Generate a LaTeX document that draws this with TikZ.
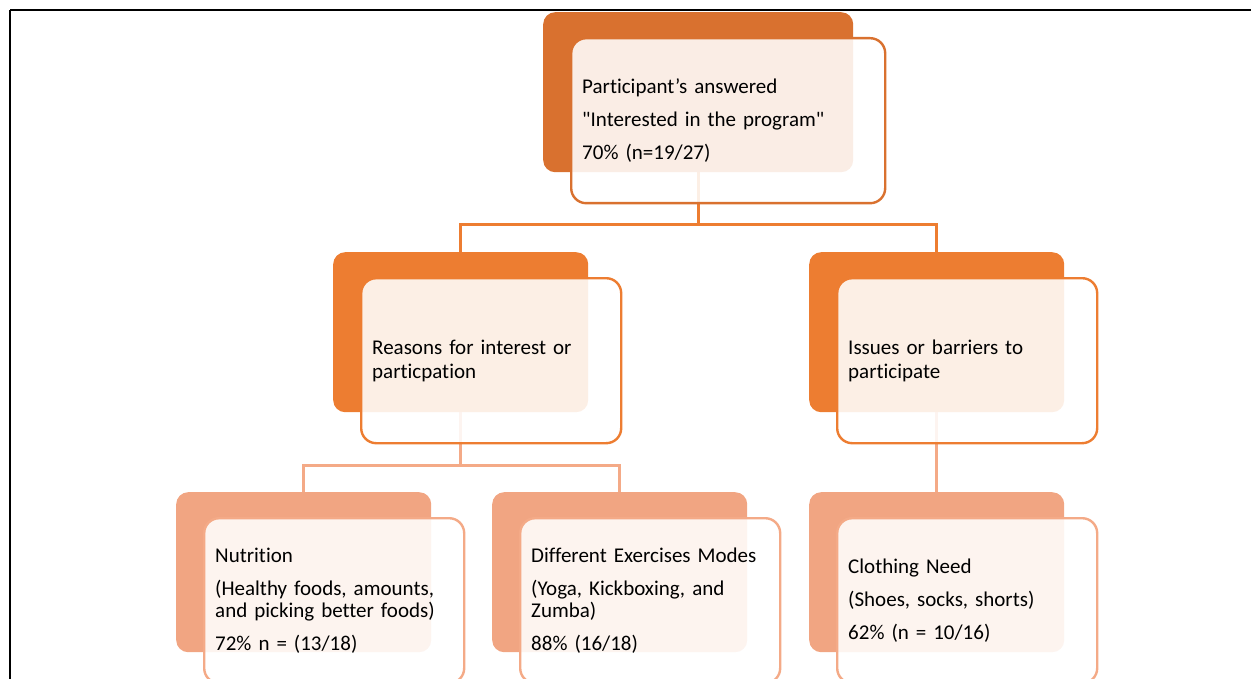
\documentclass[tikz,border=0pt]{standalone}
\usepackage{fontspec}
\setmainfont{Carlito}[Ligatures={CommonOff,TeXOff}]
\usepackage{color}
\usepackage{tikz}
\usetikzlibrary{positioning,backgrounds}
\definecolor{topor}{RGB}{217,113,47}
\definecolor{midor}{RGB}{237,125,49}
\definecolor{lowor}{RGB}{241,165,130}
\definecolor{lowline}{RGB}{244,170,135}
\begin{document}
\begin{tikzpicture}[x=1pt, y=-1pt,
  back/.style={rounded corners=12pt, inner sep=0pt, anchor=north west, minimum height=160pt},
  front/.style={draw, line width=2.4pt, rounded corners=15pt, fill=white, fill opacity=0.88, text opacity=1,
    anchor=north west, align=left, inner xsep=11pt, minimum height=165pt, text=black,
    font=\fontsize{21}{22}\selectfont},
  link/.style={line width=2.6pt}]
  \useasboundingbox (0,0) rectangle (1253,679);
  \draw[line width=1.3pt] (10,10) -- (1251,10);
  \draw[line width=2pt] (10,10) -- (10,679);
  % top level
  \node[back, fill=topor, minimum width=310pt] (topback) at (543,12) {};
  \node[front, draw=topor, minimum width=314pt, text width=292pt] (top) at ([shift={(27,25)}]topback.north west)
    {Participant’s answered\\[11pt]"Interested in the program"\\[11pt]70\% (n=19/27)};
  % second level
  \node[back, fill=midor, minimum width=255pt] (leftback) at (333,252) {};
  \node[front, draw=midor, minimum width=260pt, text width=238pt] (reasons) at ([shift={(27,25)}]leftback.north west)
    {Reasons for interest or\\[2pt]particpation};
  \node[back, fill=midor, minimum width=255pt] (rightback) at (809,252) {};
  \node[front, draw=midor, minimum width=260pt, text width=238pt] (issues) at ([shift={(27,25)}]rightback.north west)
    {Issues or barriers to\\[2pt]participate};
  % third level
  \node[back, fill=lowor, minimum width=255pt] (nutback) at (176,492) {};
  \node[front, draw=lowline, minimum width=260pt, text width=238pt] (nutrition) at ([shift={(27,25)}]nutback.north west)
    {Nutrition\\[11pt](Healthy foods, amounts,\\and picking better foods)\\[11pt]72\% n = (13/18)};
  \node[back, fill=lowor, minimum width=255pt] (exback) at (492,492) {};
  \node[front, draw=lowline, minimum width=260pt, text width=238pt] (exercise) at ([shift={(27,25)}]exback.north west)
    {Different Exercises Modes\\[11pt](Yoga, Kickboxing, and\\Zumba)\\[11pt]88\% (16/18)};
  \node[back, fill=lowor, minimum width=255pt] (clothback) at (809,492) {};
  \node[front, draw=lowline, minimum width=260pt, text width=238pt] (clothing) at ([shift={(27,25)}]clothback.north west)
    {Clothing Need\\[11pt](Shoes, socks, shorts)\\[11pt]62\% (n = 10/16)};
  % connectors
  \begin{scope}[on background layer]
    \draw[link, midor] (topback.south) -- ++(0,52) -| (leftback.north);
    \draw[link, midor] (topback.south) -- ++(0,52) -| (rightback.north);
    \draw[link, lowline] (leftback.south) -- ++(0,53) -| (nutback.north);
    \draw[link, lowline] (leftback.south) -- ++(0,53) -| (exback.north);
    \draw[link, lowline] (rightback.south) -- (clothback.north);
  \end{scope}
\end{tikzpicture}
\end{document}
